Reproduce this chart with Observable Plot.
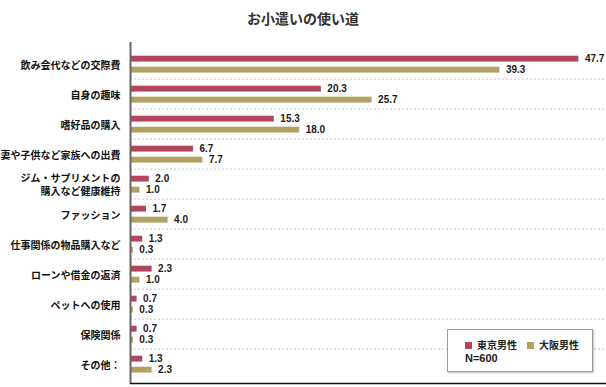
<!DOCTYPE html>
<html><head><meta charset="utf-8">
<script src="https://cdn.jsdelivr.net/npm/d3@7"></script>
<script src="https://cdn.jsdelivr.net/npm/@observablehq/plot@0.6"></script>
<style>
body{margin:0;background:#fff;}
#wrap{position:relative;width:606px;height:387px;font-family:"Liberation Sans","Noto Sans CJK JP",sans-serif;overflow:hidden;}
#title{position:absolute;left:0;width:606px;top:8px;text-align:center;font-size:14px;font-weight:bold;color:#333;}
#legend{position:absolute;left:447px;top:329px;width:146px;height:43px;border:1px solid #9a9a9a;background:#fff;box-shadow:1px 1px 2px rgba(0,0,0,0.25);font-size:10px;font-weight:bold;color:#222;box-sizing:border-box;}
#legend .row{position:absolute;left:17px;top:7px;white-space:nowrap;}
#legend .sw{display:inline-block;width:7px;height:7px;margin-right:5px;vertical-align:0px;}
#legend .item{margin-right:10px;}
#legend .note{position:absolute;left:17px;top:22px;font-size:11px;}
</style></head>
<body>
<div id="wrap"><div id="title"></div><div id="chart"></div><div id="legend"></div></div>
<script>
const chartTitle = "お小遣いの使い道";
const categories = ["飲み会代などの交際費","自身の趣味","嗜好品の購入","妻や子供など家族への出費","ジム・サプリメントの\n購入など健康維持","ファッション","仕事関係の物品購入など","ローンや借金の返済","ペットへの使用","保険関係","その他："];
const tokyo = [47.7,20.3,15.3,6.7,2.0,1.7,1.3,2.3,0.7,0.7,1.3];
const osaka = [39.3,25.7,18.0,7.7,1.0,4.0,0.3,1.0,0.3,0.3,2.3];
const seriesNames = ["東京男性","大阪男性"];
const seriesColors = ["#b3465f","#b3a063"];
const sampleNote = "N=600";

const tData = categories.map((c,i)=>({cat:c, v:tokyo[i]}));
const oData = categories.map((c,i)=>({cat:c, v:osaka[i]}));

const H = 387, mTop = 42, mBottom = 4, yInsetTop = 3;
const bw = (H - mTop - mBottom - yInsetTop) / categories.length;

const fmt = d3.format(".1f");
const chart = Plot.plot({
  width: 606, height: H,
  marginTop: mTop, marginBottom: mBottom, marginLeft: 130, marginRight: 0,
  style: {fontFamily: '"Liberation Sans","Noto Sans CJK JP",sans-serif', background: "transparent"},
  x: {domain: [0, 50], insetRight: 6, axis: null},
  y: {domain: categories, padding: 0, insetTop: yInsetTop, label: null},
  marks: [
    Plot.ruleY(categories.slice(1), {y: d=>d, dy: -bw/2, stroke: "#c8c8c8", strokeDasharray: "2,2", strokeWidth: 1}),
    Plot.barX(tData, {y: "cat", x: "v", fill: seriesColors[0], insetTop: 6.7, insetBottom: bw - 13.3}),
    Plot.barX(oData, {y: "cat", x: "v", fill: seriesColors[1], insetTop: 17.7, insetBottom: bw - 24.3}),
    Plot.text(tData, {y: "cat", x: "v", text: d=>fmt(d.v), dx: 6, dy: -5.5, textAnchor: "start", fontSize: 10, fontWeight: "bold", fill: "#1a1a1a"}),
    Plot.text(oData, {y: "cat", x: "v", text: d=>fmt(d.v), dx: 6, dy: 5.5, textAnchor: "start", fontSize: 10, fontWeight: "bold", fill: "#1a1a1a"}),
    Plot.axisY({tickSize: 0, tickPadding: 10, fontSize: 10, fontWeight: "bold", lineHeight: 1.3, fill: "#111", label: null}),
    Plot.ruleX([0], {stroke: "#666", strokeWidth: 2}),
    Plot.frame({anchor: "bottom", stroke: "#111", strokeWidth: 1.5})
  ]
});
document.getElementById("chart").appendChild(chart);
document.getElementById("title").textContent = chartTitle;
const lg = document.getElementById("legend");
lg.innerHTML = '<div class="row">' + seriesNames.map((n,i)=>`<span class="item"><span class="sw" style="background:${seriesColors[i]}"></span>${n}</span>`).join("") + '</div><div class="note">' + sampleNote + '</div>';
</script>
</body></html>
